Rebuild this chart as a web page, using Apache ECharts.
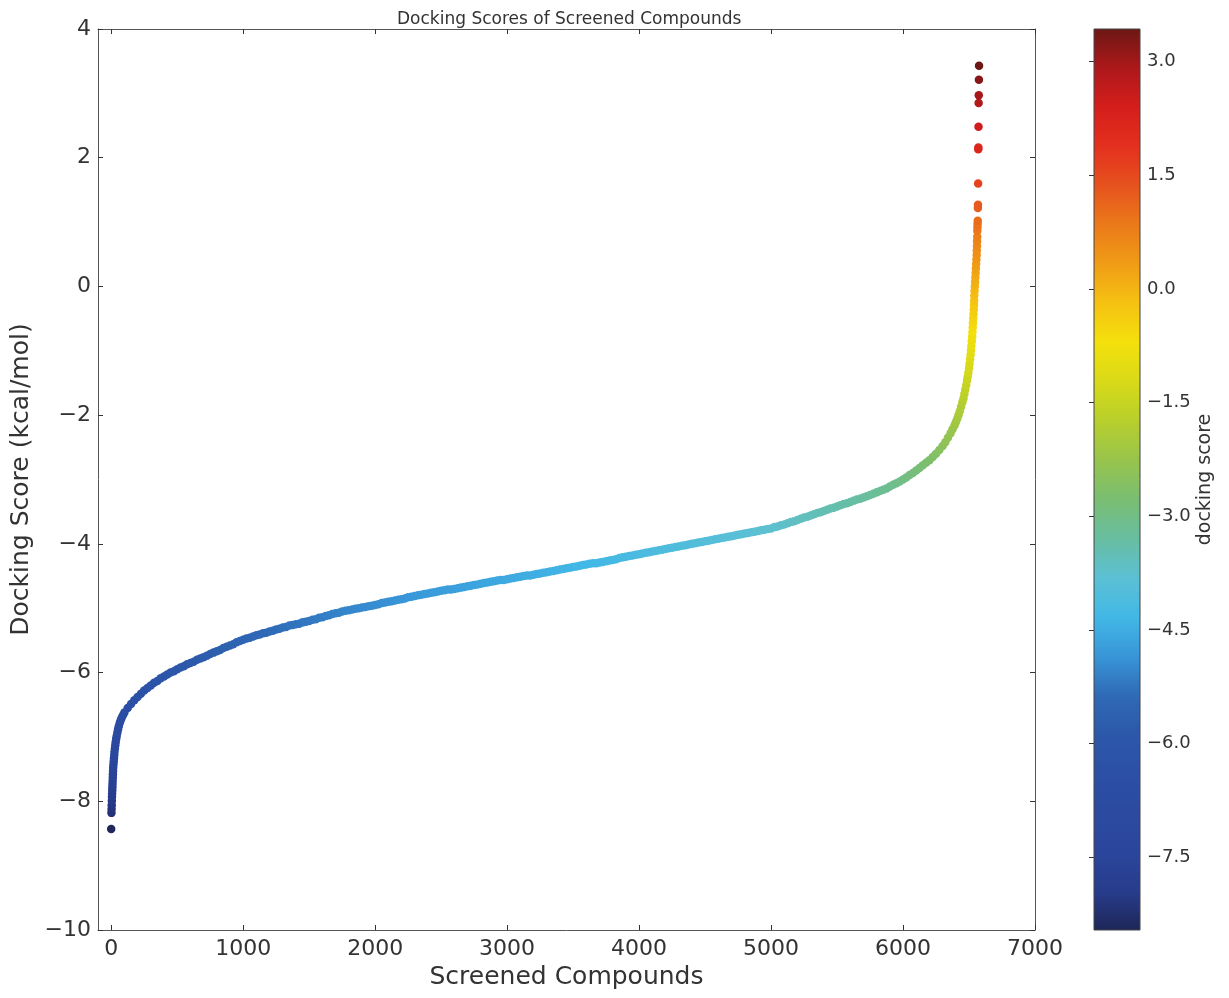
<!DOCTYPE html>
<html>
<head>
<meta charset="utf-8">
<script src="https://cdn.jsdelivr.net/npm/echarts@6/dist/echarts.min.js"></script>
<style>
html,body{margin:0;padding:0;background:#fff;}
#chart{width:1229px;height:998px;}
</style>
</head>
<body>
<div id="chart"></div>
<script>
// ---- data ----
const lowRank  = [0,2,3,4,5,6,7,8,9,10,11,12,13,14,15,17,19,21,23,25,28,31,34,38,42,47,52,58,65,72,80,90];
const lowScore = [-8.43,-8.18,-8.12,-8.06,-7.99,-7.93,-7.88,-7.83,-7.78,-7.73,-7.68,-7.63,-7.58,-7.53,-7.48,-7.43,-7.38,-7.33,-7.28,-7.23,-7.18,-7.13,-7.08,-7.03,-6.98,-6.93,-6.88,-6.83,-6.78,-6.74,-6.70,-6.66];

const bodyRank = [100,125,150,175,200,225,250,275,300,325,350,375,400,425,450,475,500,525,550,575,600,625,650,675,700,725,750,775,800,825,850,875,900,925,950,975,
1000,1025,1050,1075,1100,1125,1150,1175,1200,1225,1250,1275,1300,1325,1350,1375,1400,1425,1450,1475,1500,1525,1550,1575,1600,1625,1650,1675,1700,1725,1750,1775,1800,1825,1850,1875,1900,1925,1950,1975,
2000,2025,2050,2075,2100,2125,2150,2175,2200,2225,2250,2275,2300,2325,2350,2375,2400,2425,2450,2475,2500,2525,2550,2575,2600,2625,2650,2675,2700,2725,2750,2775,2800,2825,2850,2875,2900,2925,2950,2975,
3000,3025,3050,3075,3100,3125,3150,3175,3200,3225,3250,3275,3300,3325,3350,3375,3400,3425,3450,3475,3500,3525,3550,3575,3600,3625,3650,3675,3700,3725,3750,3775,3800,3825,3850,3875,3900,3925,3950,3975,
4000,4025,4050,4075,4100,4125,4150,4175,4200,4225,4250,4275,4300,4325,4350,4375,4400,4425,4450,4475,4500,4525,4550,4575,4600,4625,4650,4675,4700,4725,4750,4775,4800,4825,4850,4875,4900,4925,4950,4975,
5000,5025,5050,5075,5100,5125,5150,5175,5200,5225,5250,5275,5300,5325,5350,5375,5400,5425,5450,5475,5500,5525,5550,5575,5600,5625,5650,5675,5700,5725,5750,5775,5800,5825,5850,5875,5900,5925,5950,5975,
6000,6025,6050,6075,6100,6125,6150,6175,6200,6225,6250,6275,6300];
const bodyScore = [-6.62,-6.55,-6.49,-6.43,-6.38,-6.33,-6.28,-6.24,-6.20,-6.16,-6.13,-6.09,-6.06,-6.03,-6.00,-5.98,-5.95,-5.92,-5.90,-5.87,-5.85,-5.83,-5.80,-5.78,-5.76,-5.74,-5.71,-5.69,-5.67,-5.65,-5.62,-5.60,-5.58,-5.56,-5.53,-5.51,
-5.49,-5.47,-5.46,-5.44,-5.42,-5.41,-5.39,-5.38,-5.36,-5.35,-5.33,-5.32,-5.30,-5.29,-5.27,-5.26,-5.25,-5.24,-5.22,-5.21,-5.20,-5.18,-5.17,-5.15,-5.14,-5.12,-5.11,-5.09,-5.08,-5.07,-5.05,-5.04,-5.03,-5.02,-5.01,-5.00,-4.99,-4.98,-4.97,-4.96,
-4.95,-4.94,-4.92,-4.91,-4.90,-4.89,-4.88,-4.87,-4.86,-4.85,-4.83,-4.82,-4.81,-4.80,-4.79,-4.78,-4.77,-4.76,-4.75,-4.74,-4.73,-4.72,-4.71,-4.71,-4.70,-4.69,-4.68,-4.67,-4.66,-4.65,-4.64,-4.63,-4.62,-4.61,-4.60,-4.59,-4.58,-4.57,-4.56,-4.56,
-4.55,-4.54,-4.53,-4.52,-4.51,-4.50,-4.49,-4.49,-4.48,-4.47,-4.46,-4.45,-4.44,-4.43,-4.42,-4.41,-4.40,-4.39,-4.38,-4.37,-4.36,-4.35,-4.34,-4.33,-4.32,-4.31,-4.30,-4.30,-4.29,-4.28,-4.27,-4.26,-4.25,-4.24,-4.22,-4.21,-4.20,-4.19,-4.18,-4.17,
-4.16,-4.15,-4.14,-4.13,-4.12,-4.11,-4.10,-4.09,-4.08,-4.07,-4.06,-4.05,-4.04,-4.03,-4.02,-4.01,-4.00,-3.99,-3.98,-3.97,-3.96,-3.95,-3.94,-3.93,-3.92,-3.91,-3.90,-3.89,-3.88,-3.87,-3.86,-3.85,-3.84,-3.83,-3.82,-3.81,-3.80,-3.79,-3.78,-3.77,
-3.76,-3.74,-3.73,-3.71,-3.70,-3.68,-3.66,-3.65,-3.63,-3.61,-3.59,-3.58,-3.56,-3.54,-3.52,-3.51,-3.49,-3.47,-3.45,-3.44,-3.42,-3.40,-3.38,-3.37,-3.35,-3.33,-3.31,-3.30,-3.28,-3.26,-3.24,-3.22,-3.20,-3.18,-3.16,-3.14,-3.11,-3.08,-3.06,-3.03,
-3.00,-2.97,-2.93,-2.90,-2.86,-2.82,-2.78,-2.74,-2.70,-2.65,-2.60,-2.54,-2.48];

const highRank  = [6320,6340,6360,6375,6390,6400,6410,6420,6430,6440,6450,6458,6465,6472,6479,6485,6490,6495,6500,6504,6508,6512,6515,6518,6521,6524,6526,6528,6530,6532,6534,6536,6538,6539,6540,6542,6544,6546,6548,6550,6552,6554,6556,6558,6559,6560,6561,6562,6563,6564,6565,6566,6567,6568,6569,6570,6571,6572,6573,6574,6575,6576];
const highScore = [-2.42,-2.35,-2.28,-2.22,-2.16,-2.11,-2.06,-2.00,-1.94,-1.87,-1.80,-1.74,-1.67,-1.60,-1.53,-1.46,-1.40,-1.34,-1.27,-1.20,-1.13,-1.06,-0.99,-0.92,-0.85,-0.78,-0.71,-0.64,-0.57,-0.50,-0.43,-0.36,-0.29,-0.22,-0.14,-0.07,0.00,0.07,0.14,0.21,0.28,0.35,0.42,0.49,0.56,0.63,0.70,0.77,0.86,0.92,0.97,1.02,1.22,1.27,1.60,2.13,2.16,2.48,2.85,2.97,3.21,3.43];

const xTicks  = [0,1000,2000,3000,4000,5000,6000,7000];
const cbTicks = [-7.5,-6.0,-4.5,-3.0,-1.5,0.0,1.5,3.0];
const cbMin = -8.46, cbMax = 3.43;
const cmapColors = ['#1e2658','#283c8c','#2a469c','#2b4aa0','#2b50a6','#2c58aa','#2f6ab6','#3896d8','#42b8e6','#5cc0d4','#68bea0','#7abe72','#98c44c','#b8cf2c','#d8da18','#f4e00c','#f5c212','#f09c16','#eb7a1a','#e6521e','#e4301e','#d41e1c','#ad181a','#6b1814'];

// ---- build ----
const ranks = lowRank.concat(bodyRank, highRank);
const scores = lowScore.concat(bodyScore, highScore);
const points = ranks.map((r, i) => [r, scores[i]]);

const minus = v => (v < 0 ? '\u2212' + Math.abs(v) : String(v));
const minus1 = v => (v < 0 ? '\u2212' + Math.abs(v).toFixed(1) : v.toFixed(1));
const FONT = 'DejaVu Sans';
const spine = '#555';

const chart = echarts.init(document.getElementById('chart'), null, {renderer: 'canvas'});
const gradStops = cmapColors.map((c, i) => ({offset: i / (cmapColors.length - 1), color: c}));

chart.setOption({
  animation: false,
  backgroundColor: '#fff',
  title: {
    text: 'Docking Scores of Screened Compounds',
    left: 392, top: 6,
    textStyle: {fontFamily: FONT, fontSize: 17, fontWeight: 'normal', color: '#333'}
  },
  grid: [
    {left: 98, top: 29, width: 937, height: 901, containLabel: false, outerBoundsMode: 'none'},
    {left: 1094, top: 29, width: 46, height: 901, containLabel: false, outerBoundsMode: 'none'}
  ],
  xAxis: [
    {
      type: 'value', gridIndex: 0, position: 'bottom', min: -100, max: 7000,
      name: 'Screened Compounds', nameLocation: 'middle', nameGap: 34,
      nameTextStyle: {fontFamily: FONT, fontSize: 25, color: '#333'},
      axisLine: {show: true, onZero: false, lineStyle: {color: spine, width: 1}},
      axisTick: {show: true, inside: true, length: 5, customValues: xTicks, lineStyle: {color: '#333'}},
      axisLabel: {show: true, customValues: xTicks, margin: 8, fontFamily: FONT, fontSize: 22, color: '#333', formatter: minus},
      splitLine: {show: false}
    },
    {
      type: 'value', gridIndex: 0, position: 'top', min: -100, max: 7000,
      axisLine: {show: true, onZero: false, lineStyle: {color: spine, width: 1}},
      axisTick: {show: true, inside: true, length: 5, customValues: xTicks, lineStyle: {color: '#333'}},
      axisLabel: {show: false},
      splitLine: {show: false}
    },
    {
      type: 'value', gridIndex: 1, min: 0, max: 1, show: false
    }
  ],
  yAxis: [
    {
      type: 'value', gridIndex: 0, position: 'left', min: -10, max: 4, interval: 2,
      name: 'Docking Score (kcal/mol)', nameLocation: 'middle', nameGap: 57,
      nameTextStyle: {fontFamily: FONT, fontSize: 25, color: '#333'},
      axisLine: {show: true, onZero: false, lineStyle: {color: spine, width: 1}},
      axisTick: {show: true, inside: true, length: 5, lineStyle: {color: '#333'}},
      axisLabel: {show: true, margin: 7, fontFamily: FONT, fontSize: 22, color: '#333', formatter: minus},
      splitLine: {show: false}
    },
    {
      type: 'value', gridIndex: 0, position: 'right', min: -10, max: 4, interval: 2,
      axisLine: {show: true, onZero: false, lineStyle: {color: spine, width: 1}},
      axisTick: {show: true, inside: true, length: 5, lineStyle: {color: '#333'}},
      axisLabel: {show: false},
      splitLine: {show: false}
    },
    {
      type: 'value', gridIndex: 1, position: 'right', min: cbMin, max: cbMax,
      name: 'docking score', nameLocation: 'middle', nameGap: 56, nameRotate: 90,
      nameTextStyle: {fontFamily: FONT, fontSize: 19, color: '#333'},
      axisLine: {show: false},
      axisTick: {show: true, inside: true, length: 5, customValues: cbTicks, lineStyle: {color: '#333'}},
      axisLabel: {show: true, customValues: cbTicks, margin: 7, fontFamily: FONT, fontSize: 18, color: '#333', formatter: minus1},
      splitLine: {show: false}
    }
  ],
  visualMap: {
    show: false, type: 'continuous', seriesIndex: 0, dimension: 1,
    min: cbMin, max: cbMax, inRange: {color: cmapColors}
  },
  series: [
    {
      type: 'scatter', xAxisIndex: 0, yAxisIndex: 0,
      symbol: 'circle', symbolSize: 8.5, data: points,
      itemStyle: {opacity: 1}, large: false
    },
    {
      type: 'custom', xAxisIndex: 2, yAxisIndex: 2, data: [[0, cbMin, 1, cbMax]],
      renderItem: function (params, api) {
        const p0 = api.coord([api.value(0), api.value(3)]);
        const p1 = api.coord([api.value(2), api.value(1)]);
        return {
          type: 'rect',
          shape: {x: p0[0], y: p0[1], width: p1[0] - p0[0], height: p1[1] - p0[1]},
          style: {fill: new echarts.graphic.LinearGradient(0, 1, 0, 0, gradStops), stroke: '#444', lineWidth: 1}
        };
      },
      silent: true, z: 1
    }
  ]
});
</script>
</body>
</html>
